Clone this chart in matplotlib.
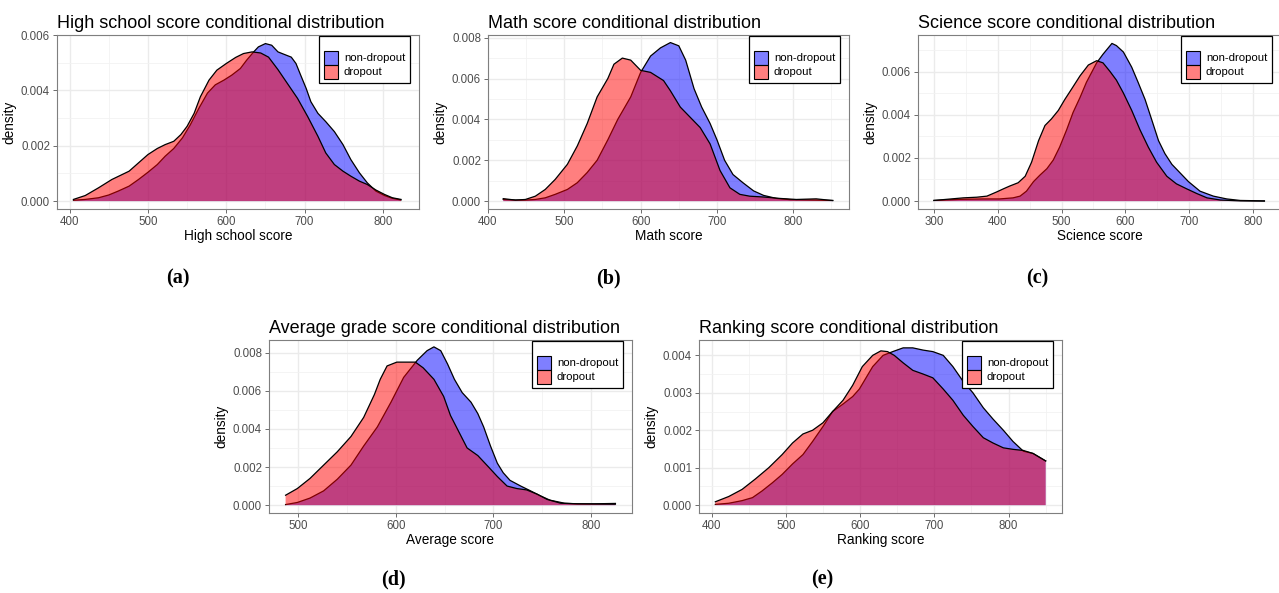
import matplotlib
matplotlib.use('Agg')
from matplotlib import pyplot as plt
from matplotlib.patches import Patch
from matplotlib.ticker import FormatStrFormatter, MultipleLocator

plt.rcParams['font.family'] = ['Liberation Sans', 'DejaVu Sans']

# ---- data (score, density) ----
hs_x_nd = [405, 420, 437, 450, 462, 476, 488, 500, 512, 522, 533, 544, 554, 565, 576, 586, 597,
           607, 618, 626, 635, 641, 650, 658, 666, 674, 683, 689, 695, 702, 708, 717, 727, 738,
           749, 759, 770, 780, 791, 802, 812, 823]
hs_y_nd = [0.00003, 0.00006, 0.00012, 0.00022, 0.00036, 0.00054, 0.00078, 0.00104, 0.00132,
           0.00162, 0.0019, 0.00228, 0.00275, 0.00335, 0.0039, 0.0042, 0.00437, 0.00455, 0.00479,
           0.00509, 0.00539, 0.00557, 0.00569, 0.00563, 0.00539, 0.0053, 0.0052, 0.00497,
           0.00455, 0.00407, 0.00359, 0.00317, 0.00287, 0.00251, 0.00204, 0.0015, 0.00102,
           0.00066, 0.00036, 0.0002, 0.0001, 0.00004]
hs_x_d = [405, 420, 437, 454, 476, 488, 500, 512, 522, 533, 542, 550, 559, 567, 578, 588, 600,
          612, 622, 633, 644, 654, 666, 678, 691, 704, 717, 727, 738, 749, 759, 770, 780, 791,
          802, 812, 823]
hs_y_d = [0.00006, 0.0002, 0.00048, 0.00078, 0.00108, 0.00138, 0.00168, 0.0019, 0.00204, 0.00216,
          0.0024, 0.0027, 0.00317, 0.00377, 0.00437, 0.00473, 0.00497, 0.00519, 0.00533, 0.00539,
          0.00535, 0.0052, 0.00475, 0.00425, 0.00371, 0.00305, 0.00234, 0.00174, 0.00132,
          0.00108, 0.0009, 0.00072, 0.0006, 0.0004, 0.00024, 0.00012, 0.00006]

math_x_nd = [420, 436, 449, 462, 475, 488, 504, 517, 530, 543, 557, 570, 587, 600, 613, 626, 639,
             650, 659, 670, 680, 691, 700, 710, 721, 734, 748, 761, 778, 796, 830, 852]
math_y_nd = [0.00008, 0.00005, 0.00005, 0.00008, 0.00016, 0.00033, 0.00057, 0.0009, 0.0014,
             0.0020, 0.0030, 0.0040, 0.0051, 0.0063, 0.0071, 0.0075, 0.00776, 0.0076, 0.0069,
             0.0055, 0.0046, 0.0038, 0.0030, 0.0020, 0.0013, 0.0009, 0.0005, 0.00028, 0.00013,
             0.00007, 0.00005, 0.00003]
math_x_d = [420, 436, 449, 462, 475, 488, 504, 517, 530, 543, 557, 565, 576, 587, 600, 613, 630,
            639, 652, 665, 678, 691, 704, 717, 730, 743, 761, 783, 804, 830, 851]
math_y_d = [0.00012, 0.00005, 0.00008, 0.00024, 0.00057, 0.00106, 0.0018, 0.0027, 0.0038,
            0.0051, 0.0060, 0.0067, 0.0070, 0.0069, 0.0064, 0.0063, 0.0059, 0.0054, 0.0046,
            0.0041, 0.0036, 0.0028, 0.0015, 0.00065, 0.00033, 0.00024, 0.0002, 0.00013,
            0.00008, 0.00011, 0.00003]

sci_x_nd = [300, 340, 377, 403, 424, 435, 445, 456, 466, 477, 487, 497, 508, 518, 529, 539, 555,
            565, 579, 586, 597, 610, 620, 631, 641, 652, 662, 673, 686, 699, 717, 738, 759, 780,
            818]
sci_y_nd = [0.00003, 0.00008, 0.0001, 0.0001, 0.00015, 0.00023, 0.00046, 0.0009, 0.0012, 0.0015,
            0.0019, 0.0025, 0.0033, 0.0041, 0.0048, 0.0055, 0.0064, 0.0068, 0.0073, 0.0072,
            0.0069, 0.0062, 0.0055, 0.0047, 0.0038, 0.0028, 0.0022, 0.0017, 0.0013, 0.0009,
            0.00046, 0.00023, 0.0001, 0.00003, 0.00001]
sci_x_d = [300, 319, 346, 367, 383, 398, 409, 419, 432, 443, 453, 464, 474, 484, 495, 505, 516,
           529, 542, 555, 565, 576, 586, 597, 610, 623, 636, 649, 665, 680, 696, 712, 728, 749,
           780, 818]
sci_y_d = [0.00003, 0.00008, 0.00015, 0.00018, 0.00023, 0.00042, 0.00057, 0.0007, 0.00085,
           0.00115, 0.0018, 0.0028, 0.0035, 0.0038, 0.0042, 0.0047, 0.0052, 0.0058, 0.0063,
           0.0065, 0.0064, 0.0060, 0.0056, 0.0050, 0.0042, 0.0033, 0.0025, 0.0018, 0.00115,
           0.0008, 0.00057, 0.00035, 0.00015, 0.00005, 0.00001, 0.0]

avg_x_nd = [487, 499, 512, 526, 540, 554, 567, 581, 595, 608, 622, 632, 639, 646, 653, 660, 668,
            677, 684, 690, 697, 704, 710, 717, 728, 738, 748, 758, 773, 786, 803, 825]
avg_y_nd = [0.00003, 0.00014, 0.00037, 0.00075, 0.00136, 0.0021, 0.0031, 0.0041, 0.0054, 0.0067,
            0.0076, 0.0081, 0.0083, 0.0081, 0.0074, 0.0066, 0.0059, 0.0054, 0.0048, 0.0041,
            0.0031, 0.0022, 0.0017, 0.0013, 0.0010, 0.00075, 0.00049, 0.00026, 0.0001, 0.00007,
            0.00007, 0.00009]
avg_x_d = [487, 499, 512, 526, 540, 554, 567, 578, 584, 591, 601, 611, 620, 628, 639, 649, 656,
           665, 673, 684, 695, 704, 714, 724, 734, 745, 755, 769, 786, 825]
avg_y_d = [0.00052, 0.00087, 0.0014, 0.0021, 0.0028, 0.0036, 0.0046, 0.0058, 0.0066, 0.0073,
           0.0075, 0.0075, 0.0075, 0.0072, 0.0066, 0.0057, 0.0047, 0.0038, 0.0030, 0.0026,
           0.0020, 0.0015, 0.0010, 0.00087, 0.0008, 0.00057, 0.0003, 0.0001, 0.00007, 0.00005]

rank_x_nd = [405, 423, 441, 455, 468, 482, 495, 509, 523, 536, 550, 563, 577, 590, 599, 608, 617,
             631, 644, 658, 671, 685, 698, 712, 725, 739, 752, 766, 779, 793, 806, 820, 833, 850]
rank_y_nd = [0.00002, 0.00005, 0.00012, 0.0002, 0.00038, 0.0006, 0.00082, 0.0011, 0.00135,
             0.0017, 0.0021, 0.0025, 0.0027, 0.0029, 0.0031, 0.0034, 0.0037, 0.0040, 0.0041,
             0.0042, 0.0042, 0.00414, 0.0041, 0.0040, 0.0037, 0.0033, 0.0030, 0.0026, 0.0023,
             0.0020, 0.0017, 0.00144, 0.00138, 0.00118]
rank_x_d = [405, 423, 441, 459, 477, 495, 509, 523, 536, 550, 563, 577, 590, 603, 617, 628, 637,
            646, 658, 671, 685, 698, 712, 725, 739, 752, 766, 779, 793, 806, 820, 833, 850]
rank_y_d = [0.00009, 0.00023, 0.00042, 0.0007, 0.0010, 0.00135, 0.00166, 0.0019, 0.0020, 0.0022,
            0.0025, 0.0028, 0.0032, 0.0037, 0.0040, 0.00412, 0.0041, 0.0040, 0.0038, 0.0036,
            0.0035, 0.0034, 0.0031, 0.0028, 0.0024, 0.0021, 0.0018, 0.00166, 0.00153, 0.00149,
            0.00146, 0.00138, 0.00118]

titles = ['High school score conditional distribution', 'Math score conditional distribution',
          'Science score conditional distribution', 'Average grade score conditional distribution',
          'Ranking score conditional distribution']
xlabels = ['High school score', 'Math score', 'Science score', 'Average score', 'Ranking score']
tags = ['(a)', '(b)', '(c)', '(d)', '(e)']
series_labels = ['non-dropout', 'dropout']

W, H = 1279, 593
BLUE = (0, 0, 1, 0.5)
RED = (1, 0, 0, 0.5)


def px_axes(fig, left, right, top, bottom):
    return fig.add_axes([left / W, 1 - bottom / H, (right - left) / W, (bottom - top) / H])


def drawPanel(ax, xnd, ynd, xd, yd, title, xlabel, xlim, ylim, ystep, xstep=100):
    ax.fill_between(xnd, ynd, 0, facecolor=BLUE, linewidth=0, zorder=2)
    ax.plot(xnd, ynd, color='black', lw=0.9, zorder=3, solid_joinstyle='round')
    ax.fill_between(xd, yd, 0, facecolor=RED, linewidth=0, zorder=4)
    ax.plot(xd, yd, color='black', lw=0.9, zorder=5, solid_joinstyle='round')

    ax.set_xlim(xlim)
    ax.set_ylim(ylim)
    ax.xaxis.set_major_locator(MultipleLocator(xstep))
    ax.xaxis.set_minor_locator(MultipleLocator(xstep / 2))
    ax.yaxis.set_major_locator(MultipleLocator(ystep))
    ax.yaxis.set_minor_locator(MultipleLocator(ystep / 2))
    ax.yaxis.set_major_formatter(FormatStrFormatter('%.3f'))
    ax.grid(True, which='major', color='#EBEBEB', lw=1.0, zorder=0)
    ax.grid(True, which='minor', color='#F2F2F2', lw=0.6, zorder=0)
    ax.set_axisbelow(True)
    ax.tick_params(which='major', direction='out', length=3, width=0.6, color='#555555',
                   labelsize=8.3, labelcolor='#4D4D4D', pad=2)
    ax.tick_params(which='minor', length=0)
    for s in ax.spines.values():
        s.set_color('#7F7F7F')
        s.set_linewidth(0.8)

    ax.set_title(title, loc='left', fontsize=13, pad=5)
    ax.set_xlabel(xlabel, fontsize=9.8, labelpad=1)
    ax.set_ylabel('density', fontsize=9.8, labelpad=3)

    handles = [Patch(facecolor=BLUE, edgecolor='black', lw=0.8),
               Patch(facecolor=RED, edgecolor='black', lw=0.8)]
    bb = ax.get_position()
    wpx, hpx = bb.width * W, bb.height * H
    leg = ax.legend(handles, series_labels, loc='upper right',
                    bbox_to_anchor=(1 - 9 / wpx, 1 - 1 / hpx), borderaxespad=0,
                    fontsize=8.2, title=' ', title_fontsize=8, fancybox=False,
                    framealpha=1, edgecolor='black', labelspacing=0.0,
                    handlelength=1.25, handleheight=1.5, handletextpad=0.5,
                    borderpad=0.42)
    leg.get_frame().set_linewidth(0.9)
    leg.set_zorder(10)


fig = plt.figure(figsize=(W / 100, H / 100), dpi=100)

ax_a = px_axes(fig, 57, 419, 35, 209)
ax_b = px_axes(fig, 488, 849, 35, 209)
ax_c = px_axes(fig, 918, 1281, 35, 209)
ax_d = px_axes(fig, 269, 632, 340, 513)
ax_e = px_axes(fig, 699, 1062, 340, 513)

drawPanel(ax_a, hs_x_nd, hs_y_nd, hs_x_d, hs_y_d, titles[0], xlabels[0],
          (384, 846), (-0.000286, 0.0060), 0.002)
drawPanel(ax_b, math_x_nd, math_y_nd, math_x_d, math_y_d, titles[1], xlabels[1],
          (400, 873), (-0.000387, 0.00813), 0.002)
drawPanel(ax_c, sci_x_nd, sci_y_nd, sci_x_d, sci_y_d, titles[2], xlabels[2],
          (275, 844), (-0.000366, 0.00769), 0.002)
drawPanel(ax_d, avg_x_nd, avg_y_nd, avg_x_d, avg_y_d, titles[3], xlabels[3],
          (470, 842), (-0.000412, 0.00866), 0.002)
drawPanel(ax_e, rank_x_nd, rank_y_nd, rank_x_d, rank_y_d, titles[4], xlabels[4],
          (383, 872), (-0.00021, 0.00441), 0.001)
ax_c.spines['right'].set_visible(False)   # cut off at the image edge in the original

# panel tags under each chart
tag_pos = [(178, 278), (608, 278), (1037, 278), (393, 579), (822, 579)]
for t, (x, y) in zip(tags, tag_pos):
    fig.text(x / W, 1 - y / H, t, ha='center', va='center', fontsize=14.5,
             fontweight='bold', family=['Liberation Serif', 'DejaVu Serif'])

fig.savefig('out.png', dpi=100)
